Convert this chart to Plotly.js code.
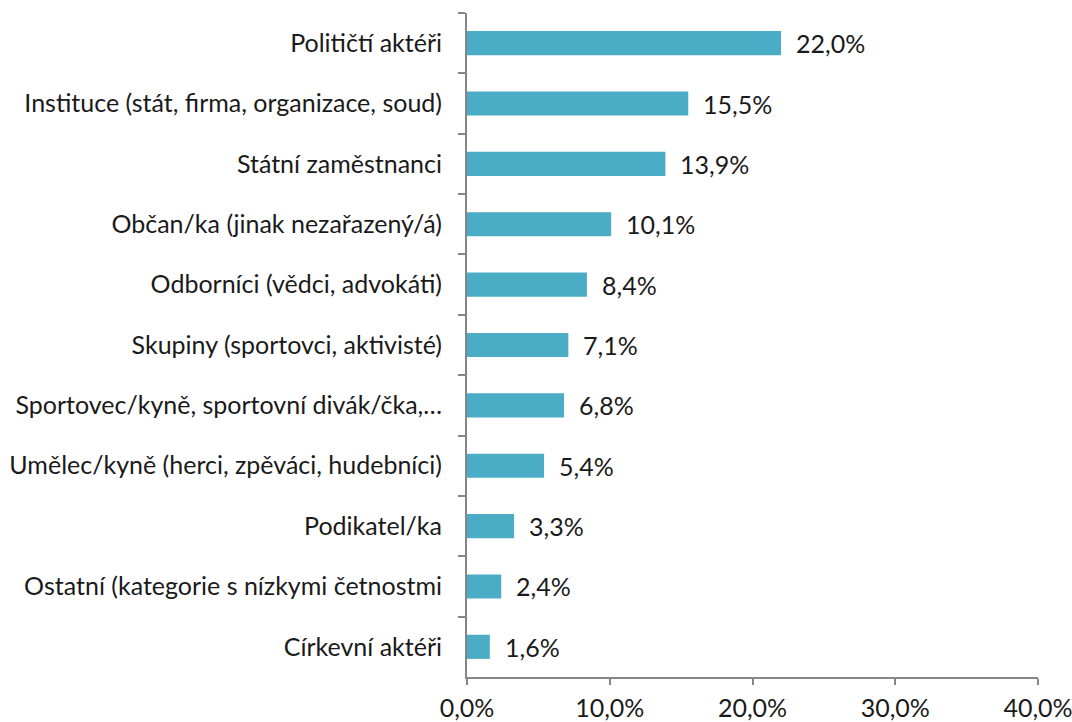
<!DOCTYPE html>
<html>
<head>
<meta charset="utf-8">
<script src="https://cdn.plot.ly/plotly-3.0.1.min.js"></script>
<style>html,body{margin:0;padding:0;background:#fff;}#chart{width:1072px;height:722px;}</style>
</head>
<body>
<div id="chart"></div>
<script>
const categories = [
  "Političtí aktéři",
  "Instituce (stát, firma, organizace, soud)",
  "Státní zaměstnanci",
  "Občan/ka (jinak nezařazený/á)",
  "Odborníci (vědci, advokáti)",
  "Skupiny (sportovci, aktivisté)",
  "Sportovec/kyně, sportovní divák/čka,…",
  "Umělec/kyně (herci, zpěváci, hudebníci)",
  "Podikatel/ka",
  "Ostatní (kategorie s nízkymi četnostmi",
  "Církevní aktéři"
];
const values = [22.0, 15.5, 13.9, 10.1, 8.4, 7.1, 6.8, 5.4, 3.3, 2.4, 1.6];
const xTicks = [0, 10, 20, 30, 40];
const xTickLabels = ["0,0%", "10,0%", "20,0%", "30,0%", "40,0%"];

const fontFam = "Lato, 'Open Sans', sans-serif";
const fs = 25;
const txtColor = '#1a1a1a';

const trace = {
  type: 'bar',
  orientation: 'h',
  y: categories,
  x: values,
  marker: {color: '#4BACC6'},
  hoverinfo: 'none'
};

const annotations = values.map((v, i) => ({
  x: v, y: categories[i], xref: 'x', yref: 'y',
  text: v.toFixed(1).replace('.', ',') + '%',
  showarrow: false, xanchor: 'left', xshift: 13,
  font: {family: fontFam, size: fs, color: txtColor}
}));

const layout = {
  width: 1072, height: 722,
  margin: {l: 467, r: 34, t: 13, b: 45},
  paper_bgcolor: '#fff', plot_bgcolor: '#fff',
  separators: ', ',
  bargap: 0.6,
  showlegend: false,
  font: {family: fontFam, size: fs, color: txtColor},
  xaxis: {
    range: [0, 40],
    tickvals: xTicks,
    ticktext: xTickLabels,
    showgrid: false, zeroline: false,
    showline: true, linecolor: '#868686', linewidth: 2,
    ticks: 'outside', ticklen: 6, tickcolor: '#868686', tickwidth: 2,
    ticklabelstandoff: 2,
    ticklabeloverflow: 'allow',
    tickfont: {family: fontFam, size: fs, color: txtColor},
    fixedrange: true
  },
  yaxis: {
    autorange: 'reversed',
    showgrid: false, zeroline: false,
    showline: true, linecolor: '#868686', linewidth: 2,
    ticks: 'outside', ticklen: 7, tickcolor: '#868686', tickwidth: 2,
    tickson: 'boundaries',
    ticklabelstandoff: 18,
    tickfont: {family: fontFam, size: fs, color: txtColor},
    fixedrange: true
  },
  annotations: annotations
};

Plotly.newPlot('chart', [trace], layout, {displayModeBar: false, staticPlot: true});
</script>
</body>
</html>
